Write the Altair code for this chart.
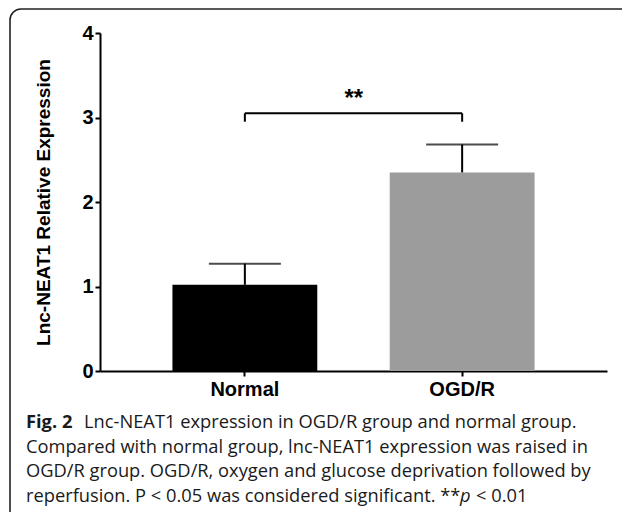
import altair as alt
import pandas as pd

# ---- data ----
groups = ["Normal", "OGD/R"]
means = [1.02, 2.35]
sems = [0.25, 0.33]
bar_colors = ["#000000", "#9c9c9c"]
y_ticks = [0, 1, 2, 3, 4]

bracket_top = [3.05]
bracket_leg_bottom = 2.95
sig_label = "**"
sig_y = [3.27]
y_title = "Lnc-NEAT1 Relative Expression"

caption_fig = "Fig. 2"
caption_line1 = "Lnc-NEAT1 expression in OGD/R group and normal group."
caption_line2 = "Compared with normal group, lnc-NEAT1 expression was raised in"
caption_line3 = "OGD/R group. OGD/R, oxygen and glucose deprivation followed by"
caption_line4 = "reperfusion. P < 0.05 was considered significant. **"
caption_p = "p"
caption_tail = "< 0.01"

df = pd.DataFrame({
    "group": groups,
    "mean": means,
    "upper": [m + s for m, s in zip(means, sems)],
})
df_bracket = pd.DataFrame({"x1": [groups[0]], "x2": [groups[1]], "y": bracket_top, "ys": sig_y})
df_legs = pd.DataFrame({"group": groups, "y1": [bracket_leg_bottom] * 2, "y2": bracket_top * 2})
one = pd.DataFrame({"k": [0]})

W, H = 507, 338
BOLD = "Liberation Sans"
CAP = "Open Sans"

xscale = alt.Scale(domain=groups, paddingInner=1 / 3, paddingOuter=1 / 3)
yscale = alt.Scale(domain=[0, 4], nice=False)

xaxis = alt.Axis(
    title=None, labelAngle=0, labelFont=BOLD, labelFontWeight="bold", labelFontSize=20,
    labelColor="black", domainColor="black", domainWidth=2, tickColor="black",
    tickWidth=2, tickSize=5, labelPadding=3, grid=False,
)
yaxis = alt.Axis(
    values=y_ticks, format="d", title=y_title, titleFont=BOLD, titleFontWeight="bold",
    titleFontSize=19, titleColor="black", titleX=-57, titleY=H / 2, titleAngle=-90,
    titleAlign="center", titleBaseline="middle",
    labelFont=BOLD, labelFontWeight="bold", labelFontSize=20, labelColor="black",
    domainColor="black", domainWidth=2, tickColor="black", tickWidth=2, tickSize=5,
    labelPadding=2, grid=False,
)

base = alt.Chart(df)

bars = base.mark_bar().encode(
    x=alt.X("group:N", scale=xscale, axis=xaxis, sort=groups),
    y=alt.Y("mean:Q", scale=yscale, axis=yaxis),
    color=alt.Color("group:N", scale=alt.Scale(domain=groups, range=bar_colors), legend=None),
)

err = base.mark_rule(color="black", strokeWidth=2).encode(
    x=alt.X("group:N"), y=alt.Y("mean:Q"), y2="upper:Q"
)
caps = base.mark_tick(color="black", thickness=2, size=72, orient="horizontal").encode(
    x=alt.X("group:N"), y=alt.Y("upper:Q")
)

bracket = alt.Chart(df_bracket).mark_rule(color="black", strokeWidth=2).encode(
    x=alt.X("x1:N"), x2="x2:N", y=alt.Y("y:Q")
)
legs = alt.Chart(df_legs).mark_rule(color="black", strokeWidth=2).encode(
    x=alt.X("group:N"), y=alt.Y("y1:Q"), y2="y2:Q"
)
stars = alt.Chart(df_bracket).mark_text(
    font=BOLD, fontWeight="bold", fontSize=24, color="black", baseline="middle", dx=109, dy=4
).encode(x=alt.X("x1:N"), y=alt.Y("ys:Q"), text=alt.value(sig_label))

border = alt.Chart(one).mark_rect(
    fillOpacity=0, stroke="#222", strokeWidth=1.6, cornerRadius=11
).encode(x=alt.value(-90), x2=alt.value(560), y=alt.value(-24), y2=alt.value(520))


def cap_text(txt, x, y, weight="normal", style="normal"):
    return alt.Chart(one).mark_text(
        align="left", baseline="middle", font=CAP, fontSize=18.3, fontWeight=weight,
        fontStyle=style, color="#1a1a1a",
    ).encode(x=alt.value(x), y=alt.value(y), text=alt.value(txt))


captions = [
    cap_text(caption_fig, -74, 390, weight="bold"),
    cap_text(caption_line1, -16, 390),
    cap_text(caption_line2, -74, 414.7),
    cap_text(caption_line3, -74, 439.4),
    cap_text(caption_line4, -74, 464),
    cap_text(caption_p, 360, 464, style="italic"),
    cap_text(caption_tail, 376, 464),
]

chart = alt.layer(border, bars, err, caps, bracket, legs, stars, *captions).properties(
    width=W, height=H,
    autosize=alt.AutoSizeParams(type="none"),
    padding={"left": 92, "top": 25, "right": 15, "bottom": 141},
    background="white",
).configure_view(strokeWidth=0, stroke="transparent")

chart.save("out.html", embed_options={"renderer": "svg", "actions": False})
